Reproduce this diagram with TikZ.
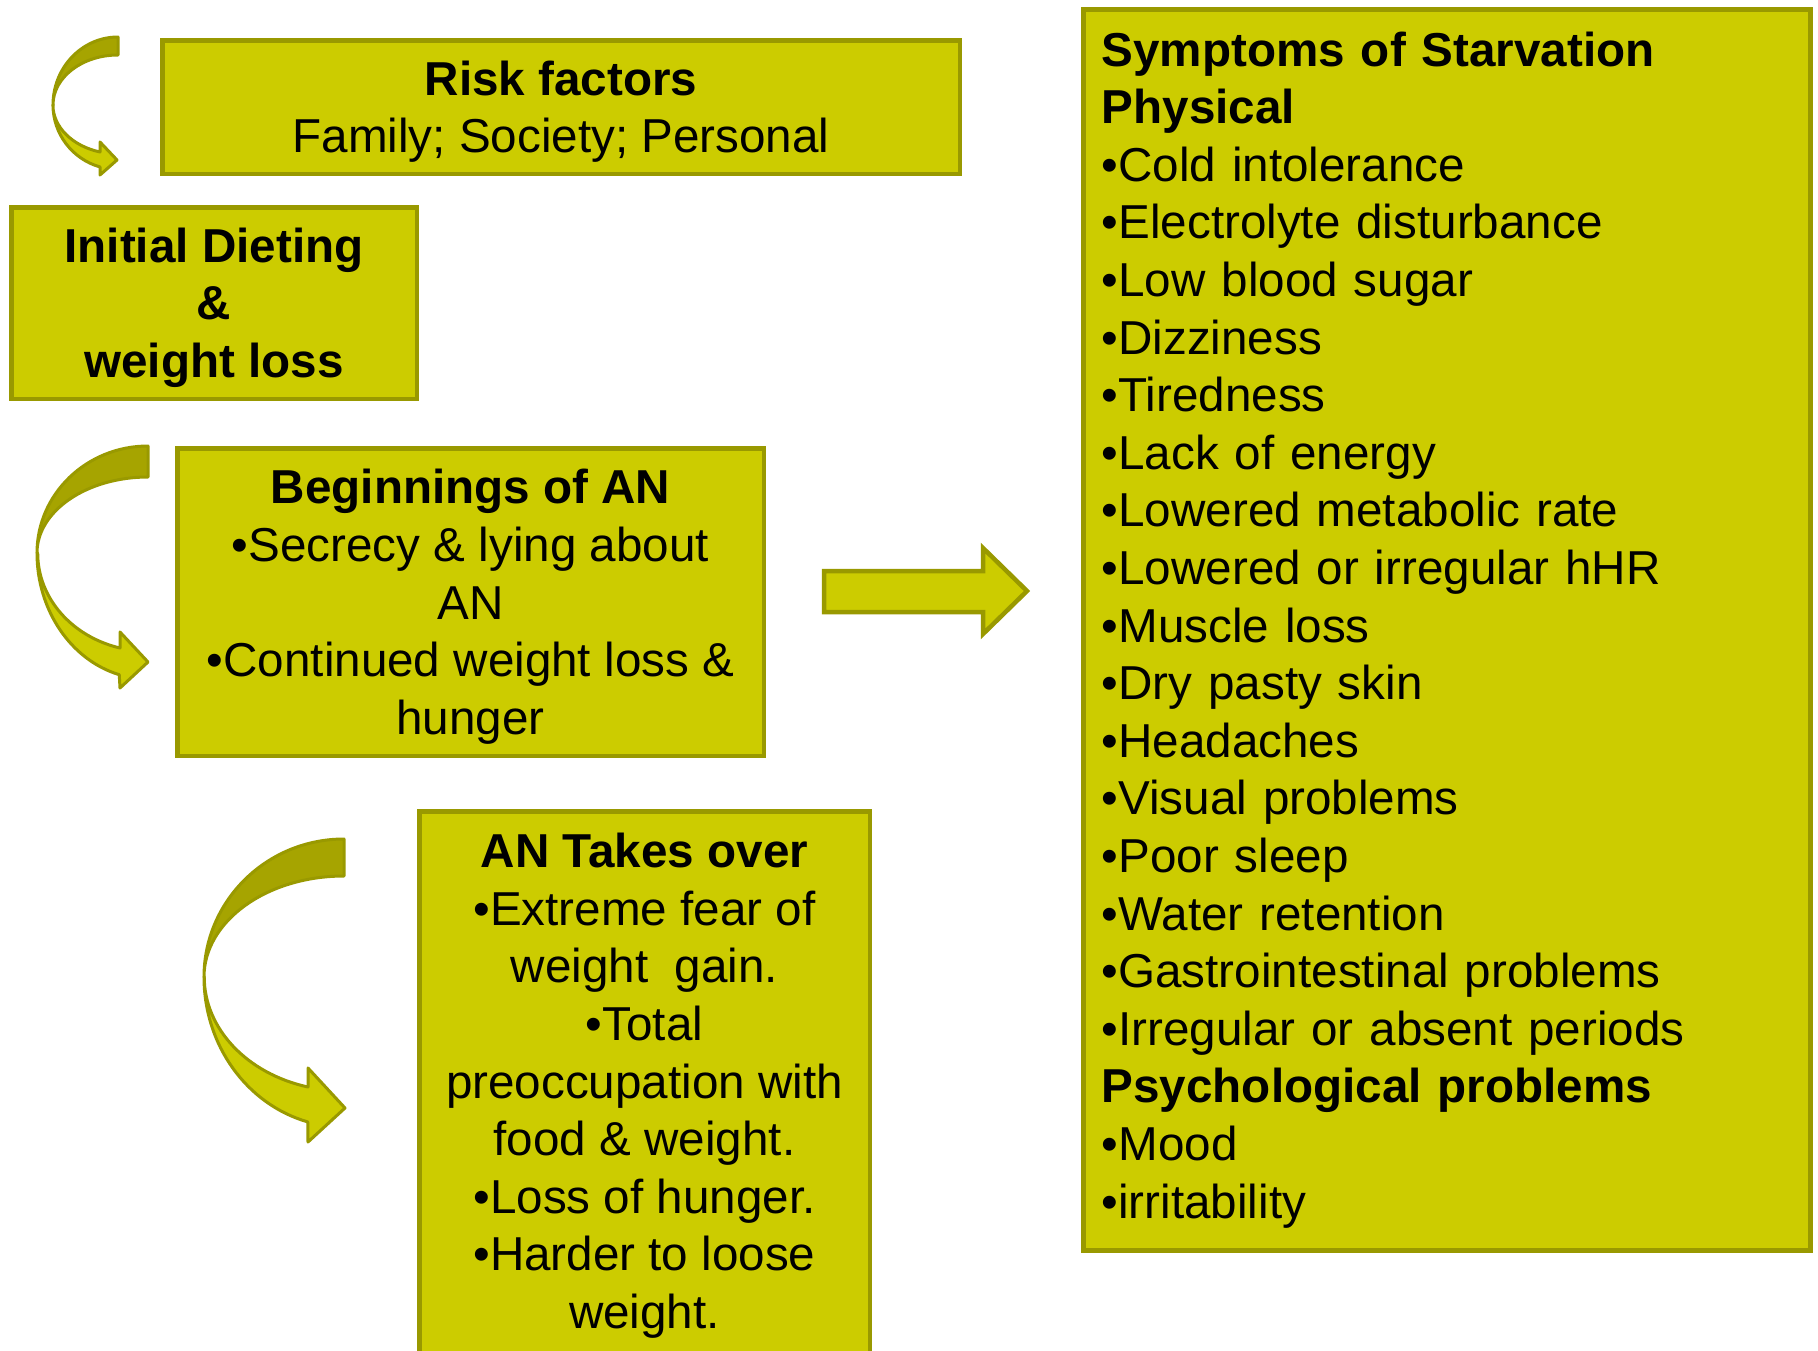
\documentclass[tikz,border=0pt]{standalone}
\usepackage{fontspec}
\setmainfont{Liberation Sans}
\usepackage{tikz}

\definecolor{boxfill}{RGB}{204,204,0}
\definecolor{boxedge}{RGB}{153,153,0}
\definecolor{backfill}{RGB}{166,164,0}
\newcommand{\topstrut}{\rule{0pt}{44pt}}

\begin{document}
\begin{tikzpicture}[x=1pt, y=-1pt,
    font=\fontsize{47.6}{57.6}\selectfont,
    box/.style={draw=boxedge, fill=boxfill, line width=4.5pt, align=center, inner sep=0pt},
    block/.style={draw=boxedge, fill=boxfill, line width=4.5pt, line join=miter},
    front/.style={draw=boxedge, fill=boxfill, line width=3pt, line join=round},
    back/.style={draw=boxedge, fill=backfill, line width=3pt, line join=round}]
    \useasboundingbox (0, 0) rectangle (1818, 1350);

    \node[box, minimum width=797.5pt, minimum height=133.5pt] (risk) at (561, 107)
        {\topstrut\textbf{Risk factors}\\Family; Society; Personal};
    \node[box, minimum width=405.5pt, minimum height=191.5pt] (dieting) at (214, 303)
        {\topstrut\textbf{Initial Dieting}\\\textbf{\&}\\\textbf{weight loss}};
    \node[box, minimum width=586.5pt, minimum height=307.5pt] (begin) at (470.5, 602)
        {\topstrut\textbf{Beginnings of AN}\\\textbullet Secrecy \& lying about\\AN\\\textbullet Continued weight loss \&\\hunger};
    \filldraw[block] (419.25, 811.25) rectangle (869.75, 1400);
    \node[align=center, anchor=north, inner sep=0pt] (takes) at (644.5, 833)
        {\textbf{AN Takes over}\\\textbullet Extreme fear of\\weight\ \ gain.\\\textbullet Total\\preoccupation with\\food \& weight.\\\textbullet Loss of hunger.\\\textbullet Harder to loose\\weight.};
    \node[box, align=left, text width=690pt, minimum width=727pt, minimum height=1241pt,
        anchor=north west] (symptoms) at (1081, 7)
        {\textbf{Symptoms of Starvation}\\\textbf{Physical}\\
        \textbullet Cold intolerance\\\textbullet Electrolyte disturbance\\
        \textbullet Low blood sugar\\\textbullet Dizziness\\\textbullet Tiredness\\
        \textbullet Lack of energy\\\textbullet Lowered metabolic rate\\
        \textbullet Lowered or irregular hHR\\\textbullet Muscle loss\\
        \textbullet Dry pasty skin\\\textbullet Headaches\\\textbullet Visual problems\\
        \textbullet Poor sleep\\\textbullet Water retention\\
        \textbullet Gastrointestinal problems\\\textbullet Irregular or absent periods\\
        \textbf{Psychological problems}\\\textbullet Mood\\\textbullet irritability};

    % block arrow to the symptoms
    \filldraw[block] (824, 571) -- (983, 571) -- (983, 548) -- (1027, 591)
        -- (983, 634) -- (983, 612) -- (824, 612) -- cycle;

    % curved arrows
    \filldraw[front] (53, 105) arc[start angle=180, end angle=254, x radius=65pt, y radius=64.5pt]
        -- (100, 175) -- (117, 160) -- (100, 142) -- (100, 152)
        arc[start angle=254, end angle=180, x radius=65pt, y radius=49pt] -- cycle;
    \filldraw[back] (118, 37) arc[start angle=90, end angle=180, x radius=65pt, y radius=68pt]
        arc[start angle=180, end angle=90, x radius=65pt, y radius=50pt] -- cycle;

    \filldraw[front] (37, 553) arc[start angle=180, end angle=255, x radius=111pt, y radius=126pt]
        -- (120, 688) -- (148, 662) -- (120, 632) -- (120, 648)
        arc[start angle=255, end angle=180, x radius=111pt, y radius=98pt] -- cycle;
    \filldraw[back] (148, 446) arc[start angle=90, end angle=180, x radius=111pt, y radius=107pt]
        arc[start angle=180, end angle=90, x radius=111pt, y radius=76pt] -- cycle;

    \filldraw[front] (204, 977) arc[start angle=180, end angle=255, x radius=140pt, y radius=150pt]
        -- (308, 1142) -- (345, 1108) -- (308, 1068) -- (308, 1087)
        arc[start angle=255, end angle=180, x radius=140pt, y radius=114pt] -- cycle;
    \filldraw[back] (344, 839) arc[start angle=90, end angle=180, x radius=140pt, y radius=138pt]
        arc[start angle=180, end angle=90, x radius=140pt, y radius=101pt] -- cycle;
\end{tikzpicture}
\end{document}
